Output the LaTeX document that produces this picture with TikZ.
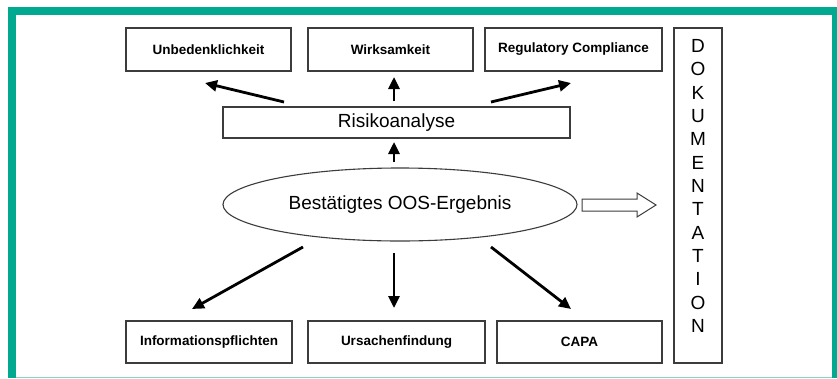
\documentclass[tikz,border=0pt]{standalone}
\usepackage{fontspec}
\setmainfont{Liberation Sans}
\usetikzlibrary{arrows.meta,shapes.geometric}
\definecolor{teal1}{RGB}{0,169,143}
\definecolor{teal2}{RGB}{140,212,198}
\definecolor{boxline}{RGB}{60,60,60}
\tikzset{
  box/.style={draw=boxline,line width=1.1pt,inner sep=0pt,font=\fontsize{13.5}{16}\selectfont\bfseries},
  plain/.style={draw=boxline,line width=1.1pt,inner sep=0pt,font=\fontsize{19}{22}\selectfont},
  arr/.style={line width=2.8pt,-{Triangle[length=12pt,width=11pt]}},
}
\begin{document}
\begin{tikzpicture}[x=1pt,y=-1pt]
\useasboundingbox (0,0) rectangle (837,378);
\fill[teal1] (8,7) rectangle (837,378);
\fill[white] (16,15) rectangle (832,377);
\fill[teal2] (16,377) rectangle (832,378);
\node[box,minimum width=165pt,minimum height=43pt] (unb) at (208.5,49.5) {Unbedenklichkeit};
\node[box,minimum width=165pt,minimum height=43pt] (wirk) at (390.5,49.5) {Wirksamkeit};
\node[box,minimum width=177pt,minimum height=43pt] (reg) at (573.5,49.5) {Regulatory Compliance};
\node[draw=boxline,line width=1.1pt,minimum width=48pt,minimum height=335pt,inner sep=0pt] (dok) at (698,195.5) {};
\node[font=\fontsize{19}{23.33}\selectfont,align=center,inner sep=0pt] (doktext) at (698,186)
 {D\\O\\K\\U\\M\\E\\N\\T\\A\\T\\I\\O\\N};
\node[plain,minimum width=347pt,minimum height=31pt] (risk) at (396.5,122.5) {Risikoanalyse};
\node[plain,ellipse,minimum width=354pt,minimum height=73pt] (ell) at (400,204.5) {Bestätigtes OOS-Ergebnis};
\node[box,minimum width=166pt,minimum height=42pt] (info) at (209,342) {Informationspflichten};
\node[box,minimum width=177pt,minimum height=42pt] (urs) at (396.5,342) {Ursachenfindung};
\node[box,minimum width=165pt,minimum height=42pt] (capa) at (579.5,342) {CAPA};
% arrow endpoints
\coordinate (a1s) at (284,102); \coordinate (a1e) at (205,83);
\coordinate (a2s) at (394,101); \coordinate (a2e) at (394,77);
\coordinate (a3s) at (491,102); \coordinate (a3e) at (571,83);
\coordinate (a4s) at (394,162); \coordinate (a4e) at (394,142);
\coordinate (b1s) at (303,247); \coordinate (b1e) at (192,309);
\coordinate (b2s) at (394,253); \coordinate (b2e) at (394,308);
\coordinate (b3s) at (491,247); \coordinate (b3e) at (571,309);
\draw[arr] (a1s) -- (a1e);
\draw[arr] (a2s) -- (a2e);
\draw[arr] (a3s) -- (a3e);
\draw[arr] (a4s) -- (a4e);
\draw[arr] (b1s) -- (b1e);
\draw[arr] (b2s) -- (b2e);
\draw[arr] (b3s) -- (b3e);
% hollow arrow
\draw[boxline,line width=1pt,line join=miter]
  (582,199) -- (637,199) -- (637,193) -- (656,205) -- (637,217) -- (637,211) -- (582,211) -- cycle;
\end{tikzpicture}
\end{document}
